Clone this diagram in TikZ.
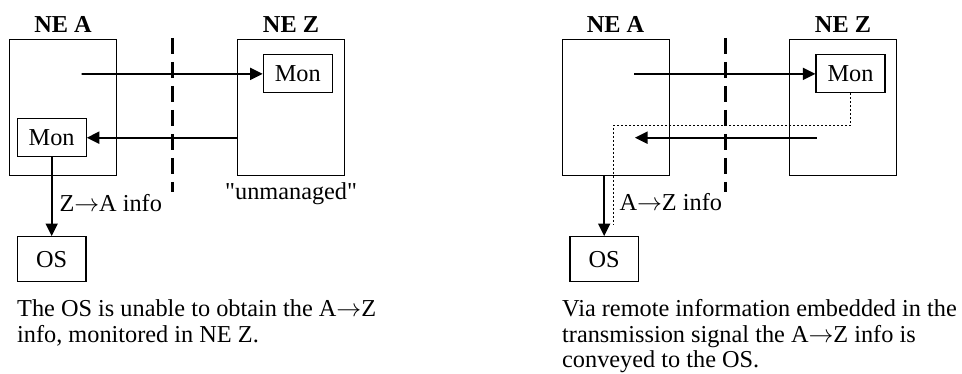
\documentclass[tikz,border=0pt]{standalone}
\usepackage{fontspec}
\setmainfont{Liberation Serif}
\newfontfamily\rawserif{Liberation Serif}[Ligatures=TeXOff]
\usetikzlibrary{arrows.meta}
\newcommand\fs{\fontsize{24.3}{25}\selectfont}
\newcommand\ra{\ensuremath{\rightarrow}}
\newcommand\sq{{\rawserif\symbol{34}}}
\begin{document}
\begin{tikzpicture}[x=1pt,y=-1pt,
  nebox/.style={draw, line width=1.2pt, inner sep=0pt, minimum width=107pt, minimum height=136.4pt},
  monbox/.style={draw, line width=1.2pt, inner sep=0pt, minimum width=69pt, minimum height=38pt, font=\fs},
  osbox/.style={draw, line width=1.2pt, inner sep=0pt, minimum width=68.5pt, minimum height=45pt, font=\fs},
  lbl/.style={font=\fs\bfseries, inner sep=0pt, anchor=base},
  txt/.style={font=\fs, inner sep=0pt, anchor=base west},
  arr/.style={line width=1.7pt, -{Triangle[length=12.5pt,width=12pt]}},
  sepline/.style={line width=3pt, dash pattern=on 16pt off 8pt},
  dotline/.style={line width=1pt, dash pattern=on 2pt off 2pt}
]
\useasboundingbox (0,0) rectangle (962,374);

% ---------- left panel ----------
\node[nebox] (neA) at (63,107.5) {};
\node[nebox] (neZ) at (291,107.5) {};
\node[lbl] (lA) at (63,33) {NE A};
\node[lbl] (lZ) at (291,33) {NE Z};
\node[monbox] (monZ) at (297.8,73.9) {Mon};
\node[monbox] (monA) at (51.7,137.5) {Mon};
\node[osbox] (os) at (51.7,259.2) {OS};
\coordinate (s1) at (81.7,74);
\draw[arr] (s1) -- (monZ.west);
\coordinate (s2) at (237.5,137.7);
\draw[arr] (s2) -- (monA.east |- s2);
\draw[arr] (monA.south) -- (os.north);
\coordinate (d1a) at (172.3,38);
\coordinate (d1b) at (172.3,192);
\draw[sepline] (d1a) -- (d1b);
\node[txt] (infoL) at (59.3,212) {Z\ra A info};
\node[txt] (unm) at (225,200) {\sq unmanaged\sq};
\node[txt] (capL1) at (17,317) {The OS is unable to obtain the A\ra Z};
\node[txt] (capL2) at (17,342) {info, monitored in NE Z.};

% ---------- right panel ----------
\node[nebox] (neA2) at (615.7,107.5) {};
\node[nebox] (neZ2) at (842.7,107.5) {};
\node[lbl] (lA2) at (615.5,33) {NE A};
\node[lbl] (lZ2) at (843,33) {NE Z};
\node[monbox] (monZ22) at (850.5,73.9) {Mon};
\node[osbox] (os2) at (604.2,259.2) {OS};
\coordinate (t1) at (634,74);
\draw[arr] (t1) -- (monZ22.west);
\coordinate (t2a) at (816.7,137.7);
\coordinate (t2b) at (635,137.7);
\draw[arr] (t2a) -- (t2b);
\coordinate (p1) at (850.7,126);
\coordinate (p2) at (613,126);
\coordinate (p3) at (613,225);
\draw[dotline] (monZ22.south -| p1) -- (p1) -- (p2) -- (p3);
\draw[arr] (os2.north |- neA2.south) -- (os2.north);
\coordinate (d2a) at (725,38);
\coordinate (d2b) at (725,192);
\draw[sepline] (d2a) -- (d2b);
\node[txt] (infoR) at (619.3,211) {A\ra Z info};
\node[txt] (capR1) at (562,317) {Via remote information embedded in the};
\node[txt] (capR2) at (562,342) {transmission signal the A\ra Z info is};
\node[txt] (capR3) at (562,367) {conveyed to the OS.};
\end{tikzpicture}
\end{document}
